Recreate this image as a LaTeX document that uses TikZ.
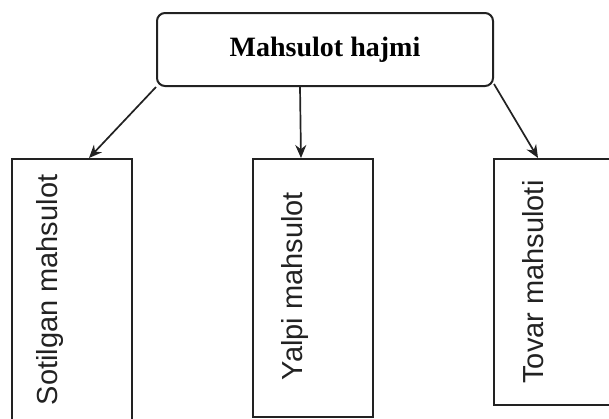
\documentclass[tikz,border=0pt]{standalone}
\usepackage{fontspec}
\setmainfont{Liberation Serif}
\newfontfamily\boxfont{Liberation Sans}
\usetikzlibrary{arrows.meta}
\definecolor{ink}{HTML}{222222}
\tikzset{
  topbox/.style={draw=ink, line width=2pt, rounded corners=8pt, minimum width=336pt, minimum height=73pt, inner sep=0pt, font=\fontsize{28}{30}\selectfont\bfseries},
  itembox/.style={draw=ink, line width=2pt, inner sep=0pt, minimum width=120pt},
  itemtext/.style={rotate=90, inner sep=0pt, font=\boxfont\fontsize{29}{31}\selectfont, text=ink},
  arr/.style={draw=ink, line width=1.7pt, -{Stealth[length=13pt,width=11pt]}}
}
\begin{document}
\begin{tikzpicture}[x=1pt,y=-1pt]
\useasboundingbox (0,0) rectangle (609,418);
\clip (0,0) rectangle (609,418);
\fill[white] (0,0) rectangle (609,418);
\node[topbox] (top) at (325,49.5) {Mahsulot hajmi};
\node[itembox, minimum height=272pt, anchor=north west] (left) at (11,158) {};
\node[itembox, minimum height=258pt, anchor=north west] (mid) at (252,158) {};
\node[itembox, minimum width=135pt, minimum height=246pt, anchor=north west] (right) at (493,158) {};
\node[itemtext] (lt) at (50,290) {Sotilgan mahsulot};
\node[itemtext] (mt) at (295,286) {Yalpi mahsulot};
\node[itemtext] (rt) at (533,282) {Tovar mahsuloti};
\draw[arr] (top.south west) -- ([xshift=17pt]left.north);
\draw[arr] ([xshift=-25pt]top.south) -- ([xshift=-12pt]mid.north);
\draw[arr] ([yshift=3pt]top.south east) -- ([xshift=-23.5pt]right.north);
\end{tikzpicture}
\end{document}
